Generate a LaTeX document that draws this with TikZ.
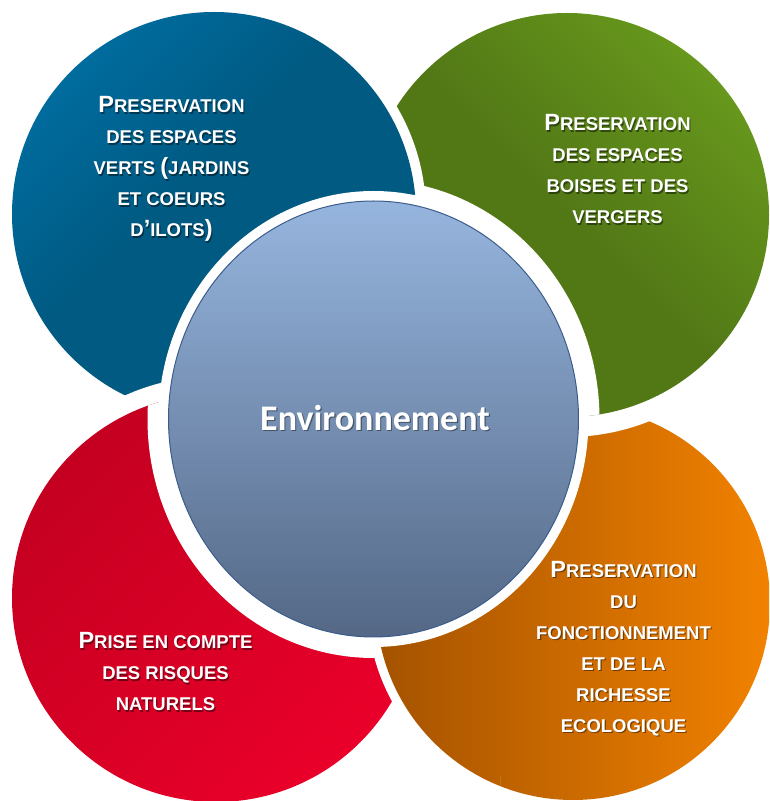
\documentclass[tikz,border=0pt]{standalone}
\usepackage{fontspec}
\setmainfont{Liberation Sans}
\newfontfamily\titrefont{Carlito}
\usetikzlibrary{calc}

\definecolor{bleuclair}{RGB}{10,138,198}
\definecolor{bleumilieu}{RGB}{0,112,165}
\definecolor{bleufonce}{RGB}{0,90,130}
\definecolor{vertclair}{RGB}{128,178,36}
\definecolor{vertmilieu}{RGB}{102,150,28}
\definecolor{vertfonce}{RGB}{82,120,22}
\definecolor{rougefonce}{RGB}{196,0,32}
\definecolor{rougeclair}{RGB}{234,0,42}
\definecolor{orangefonce}{RGB}{164,82,0}
\definecolor{orangeclair}{RGB}{242,130,0}
\definecolor{centrehaut}{RGB}{150,181,222}
\definecolor{centrebas}{RGB}{84,104,134}
\definecolor{centrebord}{RGB}{60,92,140}

% Degrades : sombre presque partout, clair seulement vers le bord.
\pgfdeclareverticalshading{degradebleu}{100bp}{color(0bp)=(bleufonce); color(55bp)=(bleufonce);
  color(80bp)=(bleumilieu); color(100bp)=(bleuclair)}
\pgfdeclareverticalshading{degradevert}{100bp}{color(0bp)=(vertfonce); color(50bp)=(vertfonce);
  color(74bp)=(vertmilieu); color(100bp)=(vertclair)}

% Goutte : cercle de centre (#1,#2) et de rayon #3, coin carre dans la direction #4.
\newcommand{\goutte}[4]{($(#1,#2)+({#4+45}:#3)$) arc[start angle={#4+45}, delta angle=270, radius=#3]
  -- ($(#1,#2)+({#4}:{1.41421*#3})$) -- cycle}
% Initiale plus haute devant les petites capitales.
\newcommand{\grande}[1]{{\fontsize{23.5}{23.5}\selectfont #1}}

\tikzset{
  bordure/.style={draw=white, line join=round, line width=#1},
  texte/.style={text=white, align=center, font=\fontsize{18.5}{31}\selectfont\bfseries},
  ombre/.style={texte, text=black, opacity=.45},
  titre/.style={text=white, font=\titrefont\bfseries\fontsize{36}{36}\selectfont},
}

\begin{document}
\begin{tikzpicture}[x=1pt, y=1pt]

  \useasboundingbox (0,0) rectangle (769,801);
  \clip (0,0) rectangle (769,801);

  % Orange, en bas a droite (repris plus bas au-dessus du rouge).
  \draw[bordure=18pt] \goutte{573}{198}{197}{135};
  \shade[left color=orangefonce, right color=orangeclair] \goutte{573}{198}{197}{135};

  % Vert, en haut a droite, par-dessus l'orange.
  \draw[bordure=40pt] \goutte{567}{586}{202}{225};
  \shade[shading=degradevert, shading angle=-45] \goutte{567}{586}{202}{225};
  \begin{scope}
    \clip \goutte{567}{586}{202}{225};
    \fill[white] (373.5,382) ellipse [x radius=226, y radius=239];
  \end{scope}

  % Bleu, en haut a gauche, par-dessus le vert.
  \draw[bordure=20pt] \goutte{214}{587}{202}{315};
  \shade[shading=degradebleu, shading angle=45] \goutte{214}{587}{202}{315};

  % Rouge, en bas a gauche, par-dessus le bleu.
  \draw[bordure=36pt] \goutte{216}{203}{204}{45};
  \shade[top color=rougefonce, bottom color=rougeclair, shading angle=45]
    \goutte{216}{203}{204}{45};
  \begin{scope}
    \clip \goutte{216}{203}{204}{45};
    \fill[white] (373.5,382) ellipse [x radius=226, y radius=239];
  \end{scope}

  % L'orange repasse au-dessus du rouge.
  \begin{scope}
    \clip (300,0) rectangle (500,250);
    \draw[bordure=18pt] \goutte{573}{198}{197}{135};
    \shade[left color=orangefonce, right color=orangeclair] \goutte{573}{198}{197}{135};
  \end{scope}

  % Disque central et son anneau blanc.
  \fill[white] (373.5,382) ellipse [x radius=215, y radius=228];
  \shade[top color=centrehaut, bottom color=centrebas, draw=centrebord, line width=1pt]
    (373.5,382) ellipse [x radius=205, y radius=218];

  % Textes, chacun avec son ombre portee.
  \node[ombre] (bleuombre) at (172.7,630.5)
    {\grande{P}RESERVATION\\DES ESPACES\\VERTS \grande{(}JARDINS\\ET COEURS\\D\grande{’}ILOTS\grande{)}};
  \node[texte] (bleu) at (171.5,632)
    {\grande{P}RESERVATION\\DES ESPACES\\VERTS \grande{(}JARDINS\\ET COEURS\\D\grande{’}ILOTS\grande{)}};

  \node[ombre] (vertombre) at (618.7,630)
    {\grande{P}RESERVATION\\DES ESPACES\\BOISES ET DES\\VERGERS};
  \node[texte] (vert) at (617.5,631.5)
    {\grande{P}RESERVATION\\DES ESPACES\\BOISES ET DES\\VERGERS};

  \node[ombre] (rougeombre) at (166.7,127.5)
    {\grande{P}RISE EN COMPTE\\DES RISQUES\\NATURELS};
  \node[texte] (rouge) at (165.5,129)
    {\grande{P}RISE EN COMPTE\\DES RISQUES\\NATURELS};

  \node[ombre] (orangeombre) at (624.7,151)
    {\grande{P}RESERVATION\\DU\\FONCTIONNEMENT\\ET DE LA\\RICHESSE\\ECOLOGIQUE};
  \node[texte] (orange) at (623.5,152.5)
    {\grande{P}RESERVATION\\DU\\FONCTIONNEMENT\\ET DE LA\\RICHESSE\\ECOLOGIQUE};

  \node[titre, text=black, opacity=.4] (envombre) at (376.2,381.5) {Environnement};
  \node[titre] (env) at (375,383) {Environnement};

\end{tikzpicture}
\end{document}
